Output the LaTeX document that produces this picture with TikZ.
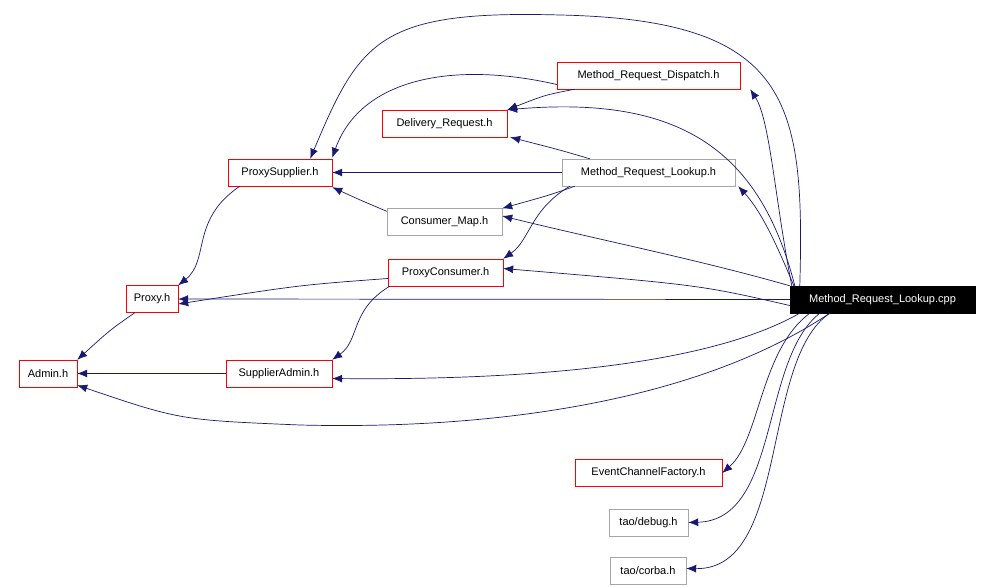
\documentclass[tikz,border=0pt]{standalone}
\usepackage{fontspec}
\setmainfont{Liberation Sans}
\usetikzlibrary{arrows.meta}
\definecolor{edge}{RGB}{25,25,112}
\begin{document}
\begin{tikzpicture}[x=1pt,y=-1pt,
  box/.style={draw=red,minimum height=27pt,inner sep=0pt,font=\fontsize{11}{13}\selectfont},
  gbox/.style={box,draw=gray!70},
  e/.style={draw=edge,line width=0.7pt,-{Latex[length=10pt,width=8pt]},fill=none}]
\useasboundingbox (0,0) rectangle (995,588);
\node[draw=black,fill=black,text=white,minimum width=185pt,minimum height=27pt,inner sep=0pt,font=\fontsize{11}{13}\selectfont] (cpp) at (882.5,299.5) {Method\_Request\_Lookup.cpp};
\node[box,minimum width=183pt] (mrd) at (648.5,75.5) {Method\_Request\_Dispatch.h};
\node[box,minimum width=125pt] (dr) at (444.5,123.5) {Delivery\_Request.h};
\node[gbox,minimum width=173pt] (mrl) at (648.5,172.5) {Method\_Request\_Lookup.h};
\node[box,minimum width=104pt] (ps) at (280,172.5) {ProxySupplier.h};
\node[gbox,minimum width=115pt] (cm) at (444.5,222) {Consumer\_Map.h};
\node[box,minimum width=115pt] (pc) at (445.5,272.5) {ProxyConsumer.h};
\node[box,minimum width=52pt] (proxy) at (152,299) {Proxy.h};
\node[box,minimum width=58pt] (admin) at (48,373.5) {Admin.h};
\node[box,minimum width=106pt] (sa) at (279,373.5) {SupplierAdmin.h};
\node[box,minimum width=147pt] (ecf) at (648.5,473) {EventChannelFactory.h};
\node[gbox,minimum width=79pt] (debug) at (648.5,522.5) {tao/debug.h};
\node[gbox,minimum width=76pt] (corba) at (648,570.5) {tao/corba.h};

\draw[e] ([xshift=2pt]cpp.north west) .. controls (775,200) and (770,120) .. ([xshift=10pt]mrd.south east);
\draw[e] ([xshift=5pt]cpp.north west) .. controls (760,150) and (680,95) .. (dr.north east);
\draw[e] ([xshift=4pt]cpp.north west) .. controls (775,240) and (760,210) .. ([xshift=3pt]mrl.south east);
\draw[e] ([xshift=10pt]cpp.north west) .. controls (805,100) and (790,20) .. (560,15) .. controls (380,10) and (360,40) .. ([xshift=-22pt]ps.north east);
\draw[e] (cpp.north west) .. controls (700,260) and (600,240) .. ([yshift=6pt]cm.east);
\draw[e] ([yshift=-6pt]cpp.west) .. controls (700,285) .. ([yshift=4pt]pc.east);
\draw[e] (cpp.west) -- (proxy.east);
\draw[e] ([xshift=10pt]cpp.south west) .. controls (700,370) and (500,380) .. ([yshift=-5pt]sa.east);
\draw[e] ([xshift=40pt]cpp.south west) .. controls (700,400) and (500,430) .. (300,425) .. controls (180,420) .. ([yshift=2pt]admin.south east);
\draw[e] ([xshift=20pt]cpp.south west) .. controls (760,350) and (760,440) .. (ecf.east);
\draw[e] ([xshift=30pt]cpp.south west) .. controls (760,360) and (780,520) .. (debug.east);
\draw[e] ([xshift=40pt]cpp.south west) .. controls (760,360) and (790,570) .. ([yshift=2pt]corba.east);
\draw[e] ([yshift=-9pt]mrd.west) .. controls (450,60) and (360,80) .. ([yshift=1pt]ps.north east);
\draw[e] ([xshift=18pt]mrd.south west) .. controls (545,95) .. (dr.north east);
\draw[e] ([xshift=28pt]mrl.north west) .. controls (560,150) .. ([xshift=3pt]dr.south east);
\draw[e] (mrl.west) -- (ps.east);
\draw[e] ([xshift=13pt]mrl.south west) .. controls (550,195) .. (cm.north east);
\draw[e] ([xshift=8pt]mrl.south west) .. controls (530,210) and (530,240) .. (pc.north east);
\draw[e] ([yshift=-3pt]cm.north west) .. controls (360,200) .. ([yshift=-1pt]ps.south east);
\draw[e] ([xshift=12pt]ps.south west) .. controls (190,220) and (210,260) .. (proxy.north east);
\draw[e] ([yshift=-6pt]pc.west) .. controls (300,285) .. ([yshift=-5pt]proxy.east);
\draw[e] ([xshift=2pt]pc.south west) .. controls (350,310) and (360,340) .. (sa.north east);
\draw[e] ([xshift=9pt]proxy.south west) .. controls (110,330) .. (admin.north east);
\draw[e] (sa.west) -- (admin.east);
\end{tikzpicture}
\end{document}
